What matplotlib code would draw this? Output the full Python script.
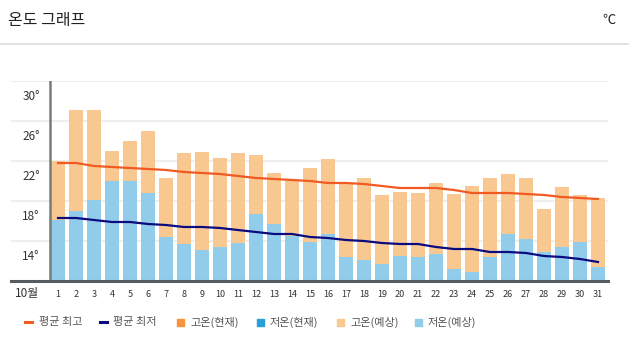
import numpy as np
import matplotlib
matplotlib.use("Agg")
import matplotlib.pyplot as plt
from matplotlib.patches import Rectangle
from matplotlib.lines import Line2D

plt.rcParams['font.family'] = ['Noto Sans CJK KR', 'DejaVu Sans']

# daily values (October)
days = list(range(1, 32))
high_fc = [23.5, 28.6, 28.6, 24.5, 25.5, 26.5, 21.8, 24.3, 24.4, 23.8,
           24.3, 24.1, 22.3, 21.5, 22.8, 23.7, 21.2, 21.8, 20.1, 20.4,
           20.3, 21.3, 20.2, 21.0, 21.8, 22.2, 21.8, 18.7, 20.9, 20.1, 19.8]
low_fc = [17.6, 18.5, 19.6, 21.5, 21.5, 20.3, 15.9, 15.2, 14.6, 14.9,
          15.3, 18.2, 17.2, 16.0, 15.4, 16.2, 13.9, 13.6, 13.2, 14.0,
          13.9, 14.2, 12.7, 12.4, 13.9, 16.2, 15.7, 14.4, 14.9, 15.4, 12.9]
avg_high = [23.3, 23.3, 23.0, 22.9, 22.8, 22.7, 22.6, 22.4, 22.3, 22.2,
            22.0, 21.8, 21.7, 21.6, 21.5, 21.3, 21.3, 21.2, 21.0, 20.8,
            20.8, 20.8, 20.6, 20.3, 20.3, 20.3, 20.2, 20.1, 19.9, 19.8, 19.7]
avg_low = [17.8, 17.8, 17.6, 17.4, 17.4, 17.2, 17.1, 16.9, 16.9, 16.8,
           16.6, 16.4, 16.2, 16.2, 15.9, 15.8, 15.6, 15.5, 15.3, 15.2,
           15.2, 14.9, 14.7, 14.7, 14.4, 14.4, 14.3, 14.0, 13.9, 13.7, 13.4]
y_ticks = [14, 18, 22, 26, 30]
grid_vals = [15.5, 19.5, 23.5, 27.5, 31.5]

legend_labels = ['평균 최고', '평균 최저', '고온(현재)', '저온(현재)', '고온(예상)', '저온(예상)']

c_avg_high = '#f15a22'
c_avg_low = '#0b0b80'
c_high_now = '#f7943b'
c_low_now = '#27a0da'
c_high_fc = '#f9c891'
c_low_fc = '#91cdea'

W, H = 629, 356
fig = plt.figure(figsize=(W / 100, H / 100), dpi=100)

# header
fig.text(8 / W, 1 - 21 / H, '온도 그래프', fontsize=11.5, color='#222222',
         va='center', ha='left')
fig.text(616 / W, 1 - 20 / H, '℃', fontsize=9.5, color='#222222',
         va='center', ha='right')
fig.add_artist(Line2D([0, 1], [1 - 44 / H, 1 - 44 / H], color='#dddddd', lw=1.2))

# plot area: left 11px, right 608px, top 81px, bottom 281px
ax = fig.add_axes([11 / W, 1 - 281 / H, (608 - 11) / W, 200 / H])
x0 = 1 + (11 - 58) / 18
x1 = 1 + (608 - 58) / 18
ax.set_xlim(x0, x1)
ax.set_ylim(11.5, 31.5)

for g in grid_vals:
    ax.axhline(g, color='#eeeeee', lw=1.5, zorder=0)

ax.bar(days, high_fc, width=0.78, color=c_high_fc, zorder=2)
ax.bar(days, low_fc, width=0.78, color=c_low_fc, zorder=3)
ax.plot(days, avg_high, color=c_avg_high, lw=1.6, zorder=4)
ax.plot(days, avg_low, color=c_avg_low, lw=1.6, zorder=4)

ax.axvline(1 - 8 / 18, color='#7a7a7a', lw=1.8, zorder=5)
ax.axhline(11.5, color='#555b60', lw=2.2, zorder=5, clip_on=False)

for s in ax.spines.values():
    s.set_visible(False)
ax.set_xticks([])
ax.set_yticks([])

for t in y_ticks:
    ax.text(-0.5, t, f'{t}°', fontsize=8.5, color='#333333',
            ha='center', va='center')
for d in days:
    ax.text(d, 11.5 - 1.35, str(d), fontsize=6.5, color='#333333',
            ha='center', va='center', clip_on=False)
ax.text(-0.75, 11.5 - 1.3, '10월', fontsize=8.5, color='#333333',
        ha='center', va='center', clip_on=False)

# legend row
ly = 1 - 322 / H
mark_x = [25, 100, 177, 257, 337, 415]
text_x = [39, 113, 190, 270, 350, 428]
for i, lab in enumerate(legend_labels):
    mx = mark_x[i] / W
    if i < 2:
        col = c_avg_high if i == 0 else c_avg_low
        fig.add_artist(Line2D([mx, mx + 7 / W], [ly, ly], color=col, lw=2.2))
    else:
        col = [c_high_now, c_low_now, c_high_fc, c_low_fc][i - 2]
        fig.add_artist(Rectangle((mx, ly - 3.5 / H), 7 / W, 7 / H,
                                 color=col, transform=fig.transFigure))
    fig.text(text_x[i] / W, ly, lab, fontsize=8, color='#555555',
             va='center', ha='left')

fig.savefig('out.png', dpi=100)
